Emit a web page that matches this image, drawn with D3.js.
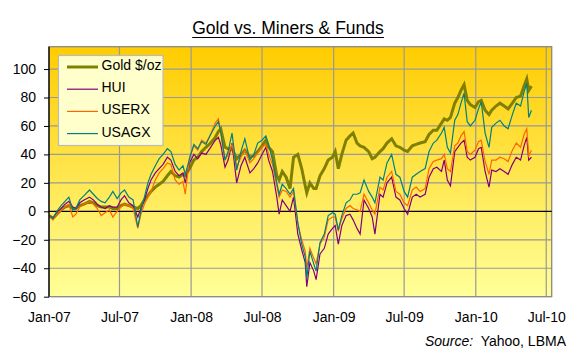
<!DOCTYPE html>
<html><head><meta charset="utf-8">
<script src="https://cdn.jsdelivr.net/npm/d3@7"></script>
<style>
body{margin:0;background:#fff}
text{font-family:"Liberation Sans",Arial,sans-serif;fill:#000}
</style>
</head><body><svg id="c" width="585" height="357"></svg>
<script>
const dates = [
"2007-01-02","2007-01-11","2007-01-21","2007-02-01","2007-02-11","2007-02-21","2007-03-03","2007-03-11","2007-03-21","2007-04-01","2007-04-15","2007-04-25",
"2007-05-05","2007-05-15","2007-05-25","2007-06-05","2007-06-14","2007-06-25","2007-07-05","2007-07-14","2007-07-25","2007-08-05","2007-08-17","2007-08-25",
"2007-09-03","2007-09-12","2007-09-20","2007-10-01","2007-10-11","2007-10-21","2007-11-01","2007-11-10","2007-11-21","2007-12-01","2007-12-11","2007-12-17","2007-12-28",
"2008-01-08","2008-01-18","2008-01-28","2008-02-08","2008-02-20","2008-03-03","2008-03-11","2008-03-17","2008-03-28","2008-04-05","2008-04-15","2008-04-27",
"2008-05-08","2008-05-18","2008-05-31","2008-06-10","2008-06-20","2008-07-01","2008-07-11","2008-07-18","2008-07-28","2008-08-08","2008-08-14","2008-08-22",
"2008-09-01","2008-09-11","2008-09-20","2008-10-01","2008-10-11","2008-10-20","2008-10-24","2008-11-01","2008-11-11","2008-11-17","2008-11-27","2008-12-08","2008-12-18","2008-12-29",
"2009-01-05","2009-01-13","2009-01-22","2009-02-02","2009-02-12","2009-02-20","2009-03-02","2009-03-10","2009-03-20","2009-04-01","2009-04-10","2009-04-17",
"2009-04-30","2009-05-08","2009-05-18","2009-05-30","2009-06-10","2009-06-20","2009-07-01","2009-07-10","2009-07-22","2009-08-01","2009-08-11","2009-08-24",
"2009-09-03","2009-09-14","2009-09-23","2009-10-05","2009-10-12","2009-10-20","2009-10-28","2009-11-08","2009-11-16","2009-11-24","2009-12-02","2009-12-10","2009-12-18","2009-12-30",
"2010-01-08","2010-01-15","2010-01-25","2010-02-04","2010-02-11","2010-02-22","2010-03-04","2010-03-15","2010-03-25","2010-04-05","2010-04-15","2010-04-26",
"2010-05-05","2010-05-12","2010-05-17","2010-05-24"
];
const gold = [
-3,-5,-2,1,3,4,2,2,4,5,7,6,
4,3,3,3,2,2,4,5,4,3,2,4,
8,11,14,17,19,21,25,28,25,24,26,25,30,
36,38,42,45,48,52,56,58,45,44,44,37,
40,43,38,39,42,46,50,45,42,25,22,28,
24,16,38,40,30,18,13,20,16,16,25,30,36,38,
42,30,40,50,53,55,48,46,45,42,37,38,
42,44,48,51,46,45,43,42,46,47,48,49,
54,57,57,62,65,64,66,76,80,85,89,78,75,73,
77,78,71,68,71,74,76,74,72,76,80,81,
88,93,85,88
];
const hui = [
-3,-5,-1,2,5,7,3,2,6,8,10,8,
5,3,2,4,3,3,8,11,6,4,-4,2,
8,16,22,27,30,33,38,36,28,25,27,20,34,
40,37,41,40,45,50,52,47,31,36,48,20,
32,38,27,30,34,40,45,36,28,10,-2,8,
4,0,10,-16,-27,-36,-53,-36,-42,-48,-30,-26,-16,-12,
-10,-23,-10,-3,-2,-6,-12,-16,8,2,-4,-16,
12,10,20,24,10,8,2,-2,10,12,10,12,
24,30,31,28,36,22,18,42,45,48,50,38,36,38,
44,45,28,17,29,28,30,28,26,33,38,36,
46,52,36,38
];
const userx = [
-3,-6,-2,1,3,5,-4,-2,3,5,7,5,
2,-3,-1,1,-4,0,3,5,4,2,-12,-2,
5,10,14,22,27,30,34,33,22,19,21,12,38,
46,43,50,48,54,62,65,56,36,40,47,31,
38,43,34,37,41,45,47,40,33,18,10,15,
14,10,14,-9,-20,-28,-40,-26,-33,-37,-23,-18,-6,-4,
-4,-14,-5,2,4,2,1,0,12,6,1,-2,
17,15,24,28,14,12,6,4,15,17,14,16,
30,35,36,37,40,30,28,46,48,53,56,42,40,43,
49,50,35,26,36,36,38,37,35,43,48,45,
54,58,39,43
];
const usagx = [
-3,-5,0,4,7,10,1,2,8,11,15,12,
9,7,6,10,14,9,13,15,10,8,-11,0,
10,20,26,32,37,40,44,42,33,29,32,26,37,
47,44,49,47,54,60,63,56,36,42,55,29,
42,51,36,40,48,50,53,47,36,20,12,19,
16,12,16,-8,-23,-32,-47,-28,-37,-42,-22,-16,-3,-1,
-2,-13,-3,6,8,12,12,13,22,14,10,6,
24,22,34,40,26,24,14,10,24,26,28,30,
42,48,50,55,59,45,41,64,68,76,83,63,60,64,
72,77,55,45,59,62,64,60,58,68,76,74,
84,90,66,71
];
const seriesNames = ["Gold $/oz","HUI","USERX","USAGX"];
const seriesColors = ["#808000","#800080","#FF6600","#008080"];
const seriesWidths = [3,1.2,1.2,1.2];
const yTicks = [-60,-40,-20,0,20,40,60,80,100];
const xTicks = ["2007-01-01","2007-07-01","2008-01-01","2008-07-01","2009-01-01","2009-07-01","2010-01-01","2010-07-01"];
const xTickLabels = ["Jan-07","Jul-07","Jan-08","Jul-08","Jan-09","Jul-09","Jan-10","Jul-10"];

const parse = d3.utcParse("%Y-%m-%d");
const svg = d3.select("#c");
const L=49, R=551.7, T=46.7, B=296.7;
const x = d3.scaleUtc().domain([parse("2007-01-01"), parse("2010-07-15")]).range([L,R]);
const y = d3.scaleLinear().domain([-60,115.7]).range([B,T]);

const defs = svg.append("defs");
const g = defs.append("linearGradient").attr("id","bg").attr("x1",0).attr("y1",0).attr("x2",0).attr("y2",1);
g.append("stop").attr("offset","0%").attr("stop-color","#FFCC00");
g.append("stop").attr("offset","100%").attr("stop-color","#FFFF99");
defs.append("clipPath").attr("id","clip").append("rect").attr("x",L).attr("y",T).attr("width",R-L).attr("height",B-T);

svg.append("rect").attr("x",L).attr("y",T).attr("width",R-L).attr("height",B-T).attr("fill","url(#bg)");

// gridlines
svg.append("g").selectAll("line").data(yTicks.filter(v=>v!==0 && v!==-60)).join("line")
  .attr("x1",L).attr("x2",R).attr("y1",d=>y(d)).attr("y2",d=>y(d))
  .attr("stroke","#999").attr("stroke-width",1.2);
svg.append("g").selectAll("line").data(xTicks.slice(1)).join("line")
  .attr("x1",d=>x(parse(d))).attr("x2",d=>x(parse(d))).attr("y1",T).attr("y2",B)
  .attr("stroke","#999").attr("stroke-width",1.2);
// border
svg.append("rect").attr("x",L).attr("y",T).attr("width",R-L).attr("height",B-T)
  .attr("fill","none").attr("stroke","#888").attr("stroke-width",1.3);
// zero line
svg.append("line").attr("x1",L).attr("x2",R).attr("y1",y(0)).attr("y2",y(0)).attr("stroke","#000").attr("stroke-width",1.1);

// series
const allSeries = [gold,hui,userx,usagx];
const line = d3.line().x((d,i)=>x(parse(dates[i]))).y(d=>y(d));
const plot = svg.append("g").attr("clip-path","url(#clip)");
allSeries.forEach((s,k)=>{
  plot.append("path").attr("d",line(s)).attr("fill","none")
    .attr("stroke",seriesColors[k]).attr("stroke-width",seriesWidths[k]).attr("stroke-linejoin","miter");
});

// left axis
const ya = d3.axisLeft(y).tickValues(yTicks).tickSize(5).tickPadding(8).tickSizeOuter(0);
const yg = svg.append("g").attr("transform",`translate(${L},0)`).call(ya);
yg.select(".domain").remove();
yg.selectAll(".tick line").attr("stroke","#000");
yg.selectAll("text").style("font-size","14px").attr("fill","#000");
svg.append("line").attr("x1",L).attr("x2",L).attr("y1",T).attr("y2",B).attr("stroke","#000").attr("stroke-width",1.3);

// bottom labels
const xa = d3.axisBottom(x).tickValues(xTicks.map(parse)).tickSize(0).tickPadding(15)
  .tickFormat((d,i)=>xTickLabels[i]);
const xg = svg.append("g").attr("transform",`translate(0,${B})`).call(xa);
xg.select(".domain").remove();
xg.selectAll("text").style("font-size","14px").attr("fill","#000");

// title
const title = svg.append("text").attr("x",288).attr("y",34).attr("text-anchor","middle")
  .style("font-size","17.5px").text("Gold vs. Miners & Funds");
const tb = title.node().getBBox();
svg.append("line").attr("x1",tb.x).attr("x2",tb.x+tb.width).attr("y1",37.5).attr("y2",37.5)
  .attr("stroke","#000").attr("stroke-width",1.2);

// legend
const lg = svg.append("g");
lg.append("rect").attr("x",58.5).attr("y",55.5).attr("width",104.5).attr("height",90)
  .attr("fill","#FFFFCC").attr("stroke","#bbb").attr("stroke-width",1.2);
seriesNames.forEach((n,k)=>{
  const by = 70 + k*22.2;
  lg.append("line").attr("x1",67).attr("x2",98).attr("y1",by-3).attr("y2",by-3)
    .attr("stroke",seriesColors[k]).attr("stroke-width",seriesWidths[k]);
  lg.append("text").attr("x",101.5).attr("y",by).style("font-size","14px").text(n);
});

// source
const src = svg.append("text").attr("x",566).attr("y",345.5).attr("text-anchor","end").style("font-size","14px");
src.append("tspan").style("font-style","italic").text("Source:");
src.append("tspan").text("  Yahoo, LBMA").attr("xml:space","preserve").style("white-space","pre");
</script>
</body></html>
